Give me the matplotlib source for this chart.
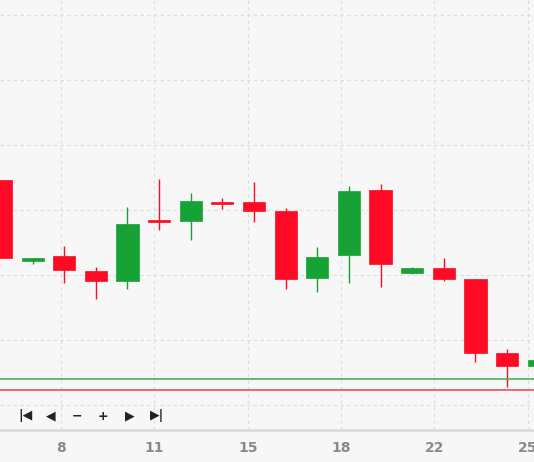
import matplotlib
matplotlib.use('Agg')
from matplotlib import pyplot as plt
import numpy as np

# candle data (open, high, low, close)
opens  = [2.746, 2.123, 2.162, 2.046, 1.969, 2.438, 2.431, 2.577, 2.577, 2.508, 1.992, 2.169, 2.669, 2.031, 2.069, 1.985, 1.415, 1.315]
highs  = [2.746, 2.146, 2.238, 2.077, 2.538, 2.754, 2.646, 2.608, 2.731, 2.531, 2.231, 2.700, 2.715, 2.077, 2.146, 1.985, 1.446, 1.362]
lows   = [2.146, 2.100, 1.954, 1.831, 1.908, 2.362, 2.285, 2.523, 2.423, 1.908, 1.885, 1.954, 1.923, 2.023, 1.969, 1.346, 1.154, 1.315]
closes = [2.146, 2.146, 2.054, 1.969, 2.408, 2.423, 2.585, 2.562, 2.508, 1.985, 2.154, 2.662, 2.100, 2.069, 1.985, 1.415, 1.315, 1.362]
tick_pos = [1.9, 4.85, 7.8, 10.75, 13.7, 16.65]
tick_labels = ['8', '11', '15', '18', '22', '25']
green_level = 1.215
red_level = 1.131

up_col = '#16a234'
dn_col = '#ff0a24'

fig = plt.figure(figsize=(5.34, 4.62), dpi=100)
fig.patch.set_facecolor('#f7f7f7')
ax = fig.add_axes([0, 32/462, 1, 430/462])
ax.set_facecolor('#f7f7f7')

for i in range(len(opens)):
    o, h, l, c = opens[i], highs[i], lows[i], closes[i]
    col = up_col if c >= o else dn_col
    ax.vlines(i, l, h, color=col, lw=1)
    b = min(o, c)
    hgt = max(abs(c - o), 0.012)
    ax.bar(i, hgt, bottom=b, width=0.7, color=col, edgecolor=col, lw=0.5)

ax.axhline(green_level, color='#4caf62', lw=1.2)
ax.axhline(red_level, color='#f0505e', lw=1.2)

ax.set_xlim(-0.03, 16.85)
ax.set_ylim(0.823, 4.131)
ax.set_yticks(np.arange(1.015, 4.1, 0.5))
ax.set_xticks(tick_pos)
ax.set_xticklabels(tick_labels, color='#8a8a8a', fontsize=10, fontweight='bold')
ax.tick_params(axis='x', length=0, pad=8)
ax.tick_params(axis='y', length=0, labelleft=False)
ax.grid(True, color='#dddddd', ls=(0, (3, 3)), lw=0.8)
ax.set_axisbelow(True)
for s in ['top', 'left', 'right']:
    ax.spines[s].set_visible(False)
ax.spines['bottom'].set_color('#dadada')
ax.spines['bottom'].set_linewidth(2)

# navigation buttons
nav = ['|◀', '◀', '−', '+', '▶', '▶|']
nav_x = [25, 51, 77, 103, 130, 157]
for t, x in zip(nav, nav_x):
    fig.text(x/534, 1 - 416/462, t, ha='center', va='center', fontsize=9,
             color='#222222', fontweight='bold')

fig.savefig('out.png', dpi=100, facecolor=fig.get_facecolor())
